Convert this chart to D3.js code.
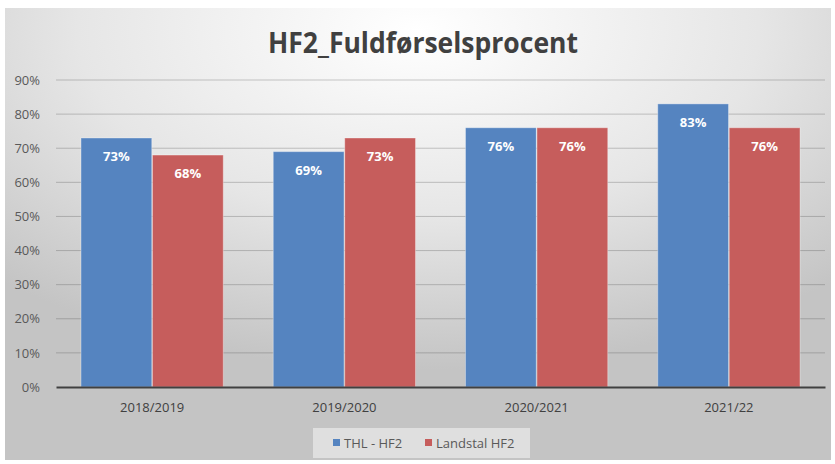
<!DOCTYPE html>
<html>
<head>
<meta charset="utf-8">
<script src="https://cdn.jsdelivr.net/npm/d3@7"></script>
<style>
  body { margin: 0; background: #fff; }
  text { font-family: "Open Sans", "DejaVu Sans", sans-serif; }
</style>
</head>
<body>
<svg id="chart" width="835" height="464"></svg>
<script>
// data
const categories = ["2018/2019", "2019/2020", "2020/2021", "2021/22"];
const seriesNames = ["THL - HF2", "Landstal HF2"];
const thlValues = [73, 69, 76, 83];
const landstalValues = [68, 73, 76, 76];
const yTicks = [0, 10, 20, 30, 40, 50, 60, 70, 80, 90];
const colors = ["#5584c0", "#c65d5c"];

const svg = d3.select("#chart");

// background panel with soft radial gradient
const defs = svg.append("defs");
const grad = defs.append("radialGradient")
    .attr("id", "bg")
    .attr("cx", "50%").attr("cy", "5%").attr("r", "75%");
grad.append("stop").attr("offset", "0%").attr("stop-color", "#ffffff");
grad.append("stop").attr("offset", "55%").attr("stop-color", "#e6e6e6");
grad.append("stop").attr("offset", "100%").attr("stop-color", "#c4c4c4");

svg.append("rect")
    .attr("x", 5).attr("y", 8)
    .attr("width", 826).attr("height", 452)
    .attr("fill", "url(#bg)");

// title
svg.append("text")
    .attr("x", 423).attr("y", 53)
    .attr("text-anchor", "middle")
    .attr("textLength", 310)
    .attr("lengthAdjust", "spacingAndGlyphs")
    .style("font-size", "29px")
    .style("font-weight", "bold")
    .style("fill", "#404040")
    .text("HF2_Fuldførselsprocent");

const x0 = d3.scaleBand()
    .domain(categories)
    .range([56, 825])
    .paddingInner(0.26)
    .paddingOuter(0.13);

const x1 = d3.scaleBand()
    .domain(seriesNames)
    .range([0, x0.bandwidth()])
    .paddingInner(0.01);

const y = d3.scaleLinear()
    .domain([0, 90])
    .range([387, 80]);

// gridlines
svg.append("g")
    .selectAll("line")
    .data(yTicks.filter(d => d > 0))
    .join("line")
    .attr("x1", 56).attr("x2", 825)
    .attr("y1", d => y(d)).attr("y2", d => y(d))
    .attr("stroke", "rgba(70,70,70,0.28)")
    .attr("stroke-width", 1);

// y axis labels
const yAxis = svg.append("g")
    .attr("transform", "translate(40,0)")
    .call(d3.axisLeft(y).tickValues(yTicks).tickFormat(d => d + "%").tickSize(0).tickPadding(0));
yAxis.select(".domain").remove();
yAxis.selectAll("text")
    .style("font-size", "13px")
    .style("fill", "#595959")
    .style("font-family", "'Open Sans', sans-serif");

// bars
const rows = categories.map((c, i) => ({
    cat: c,
    vals: [
        { name: seriesNames[0], value: thlValues[i], color: colors[0] },
        { name: seriesNames[1], value: landstalValues[i], color: colors[1] }
    ]
}));

const groups = svg.append("g")
    .selectAll("g")
    .data(rows)
    .join("g")
    .attr("transform", d => "translate(" + x0(d.cat) + ",0)");

groups.selectAll("rect")
    .data(d => d.vals)
    .join("rect")
    .attr("x", d => x1(d.name))
    .attr("y", d => y(d.value))
    .attr("width", x1.bandwidth())
    .attr("height", d => y(0) - y(d.value))
    .attr("fill", d => d.color)
    .attr("stroke", "rgba(255,255,255,0.35)")
    .attr("stroke-width", 1);

// value labels
groups.selectAll("text")
    .data(d => d.vals)
    .join("text")
    .attr("x", d => x1(d.name) + x1.bandwidth() / 2)
    .attr("y", d => y(d.value) + 23)
    .attr("text-anchor", "middle")
    .style("font-size", "13px")
    .style("font-weight", "bold")
    .style("fill", "#ffffff")
    .text(d => d.value + "%");

// baseline axis
const xAxis = svg.append("g")
    .attr("transform", "translate(0," + y(0) + ")")
    .call(d3.axisBottom(x0).tickSize(0).tickPadding(16));
xAxis.select(".domain")
    .attr("stroke", "#404040")
    .attr("stroke-width", 2);
xAxis.selectAll("text")
    .style("font-size", "13px")
    .style("fill", "#404040")
    .style("font-family", "'Open Sans', sans-serif");

// legend
const legend = svg.append("g");
legend.append("rect")
    .attr("x", 313).attr("y", 428)
    .attr("width", 217).attr("height", 30)
    .attr("fill", "rgba(232,232,232,0.75)");

const legendItems = [
    { name: seriesNames[0], color: colors[0], x: 333 },
    { name: seriesNames[1], color: colors[1], x: 425 }
];
legendItems.forEach(d => {
    legend.append("rect")
        .attr("x", d.x).attr("y", 439)
        .attr("width", 7).attr("height", 7)
        .attr("fill", d.color);
    legend.append("text")
        .attr("x", d.x + 11).attr("y", 448)
        .style("font-size", "13px")
        .style("fill", "#595959")
        .text(d.name);
});
</script>
</body>
</html>
